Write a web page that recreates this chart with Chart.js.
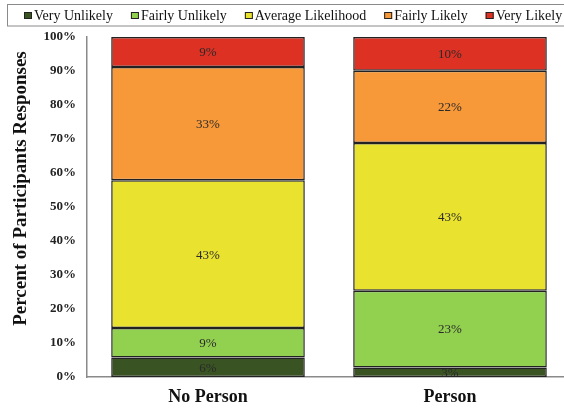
<!DOCTYPE html>
<html>
<head>
<meta charset="utf-8">
<script src="https://cdn.jsdelivr.net/npm/chart.js@4"></script>
<style>
html,body{margin:0;padding:0;background:#fff;overflow:hidden;}
#wrap{position:relative;width:571px;height:410px;}
</style>
</head>
<body>
<div id="wrap"><canvas id="c"></canvas></div>
<script>
const categories = ["No Person", "Person"];
const seriesNames = ["Very Unlikely", "Fairly Unlikely", "Average Likelihood", "Fairly Likely", "Very Likely"];
const veryUnlikely = [5.7, 2.8];
const fairlyUnlikely = [8.7, 22.6];
const averageLikelihood = [43.5, 43.4];
const fairlyLikely = [33.3, 21.3];
const veryLikely = [8.8, 9.9];
const veryUnlikelyLabels = ["6%", "3%"];
const fairlyUnlikelyLabels = ["9%", "23%"];
const averageLikelihoodLabels = ["43%", "43%"];
const fairlyLikelyLabels = ["33%", "22%"];
const veryLikelyLabels = ["9%", "10%"];
const yTicks = [0, 10, 20, 30, 40, 50, 60, 70, 80, 90, 100];

const colors = ["#3a5323", "#92d050", "#e9e22f", "#f79839", "#dd3124"];
const values = [veryUnlikely, fairlyUnlikely, averageLikelihood, fairlyLikely, veryLikely];
const labels = [veryUnlikelyLabels, fairlyUnlikelyLabels, averageLikelihoodLabels, fairlyLikelyLabels, veryLikelyLabels];

const serif = "'Liberation Serif', 'Times New Roman', serif";

const segLabels = {
  id: 'segLabels',
  afterDatasetsDraw(chart) {
    const ctx = chart.ctx;
    ctx.save();
    ctx.font = "13px " + serif;
    ctx.fillStyle = "#2a2a2a";
    ctx.textAlign = "center";
    ctx.textBaseline = "middle";
    chart.data.datasets.forEach((ds, di) => {
      const meta = chart.getDatasetMeta(di);
      meta.data.forEach((el, i) => {
        const p = el.getProps(['x', 'y', 'base'], true);
        ctx.fillText(labels[di][i], p.x, (p.y + p.base) / 2 + 1);
      });
    });
    ctx.restore();
  }
};

// Boxed legend drawn from the chart's datasets
const boxedLegend = {
  id: 'boxedLegend',
  afterDraw(chart) {
    const ctx = chart.ctx;
    ctx.save();
    ctx.strokeStyle = "#8a8a8a";
    ctx.lineWidth = 1;
    ctx.strokeRect(7.5, 4.5, 620, 21.5);
    ctx.font = "14px " + serif;
    ctx.textBaseline = "middle";
    ctx.textAlign = "left";
    const box = 8, gapIn = 2, gapOut = 18, cy = 15.5;
    let x = 24;
    chart.data.datasets.forEach(ds => {
      const w = ctx.measureText(ds.label).width;
      ctx.fillStyle = ds.backgroundColor;
      ctx.fillRect(x, cy - box / 2 + 0.5, box, box - 1);
      ctx.strokeStyle = "#222";
      ctx.strokeRect(x + 0.5, cy - box / 2 + 1, box - 1, box - 2);
      ctx.fillStyle = "#111";
      ctx.fillText(ds.label, x + box + gapIn, cy + 0.5);
      x += box + gapIn + w + gapOut;
    });
    ctx.restore();
  }
};

new Chart(document.getElementById('c'), {
  type: 'bar',
  data: {
    labels: categories,
    datasets: seriesNames.map((n, i) => ({
      label: n,
      data: values[i],
      backgroundColor: colors[i],
      borderColor: "#222",
      borderWidth: 1.5,
      borderSkipped: false,
      categoryPercentage: 0.8,
      barPercentage: 1.0
    }))
  },
  options: {
    responsive: true,
    maintainAspectRatio: false,
    animation: false,
    layout: { padding: { top: 37, bottom: 0, left: 0, right: 0 } },
    plugins: {
      legend: { display: false },
      tooltip: { enabled: false }
    },
    scales: {
      x: {
        stacked: true,
        grid: { display: false, drawTicks: false, tickLength: 0 },
        border: { display: true, color: "#8a8a8a", width: 1.5 },
        afterFit(scale) { scale.height = 33; },
        ticks: { font: { family: serif, size: 18, weight: 'bold' }, color: "#111", padding: 10 }
      },
      y: {
        stacked: true,
        min: 0,
        max: 100,
        afterBuildTicks(scale) { scale.ticks = yTicks.map(v => ({ value: v })); },
        afterFit(scale) { scale.width = 87; },
        grid: { display: false, drawTicks: false, tickLength: 0 },
        border: { display: true, color: "#8a8a8a", width: 1.5 },
        ticks: {
          font: { family: serif, size: 13, weight: 'bold' },
          color: "#222",
          padding: 11,
          callback: v => v + "%"
        },
        title: {
          display: true,
          text: "Percent of Participants Responses   ",
          align: 'end',
          font: { family: serif, size: 19, weight: 'bold' },
          color: "#111",
          padding: { top: 10, bottom: 0 }
        }
      }
    }
  },
  plugins: [segLabels, boxedLegend]
});
</script>
</body>
</html>
